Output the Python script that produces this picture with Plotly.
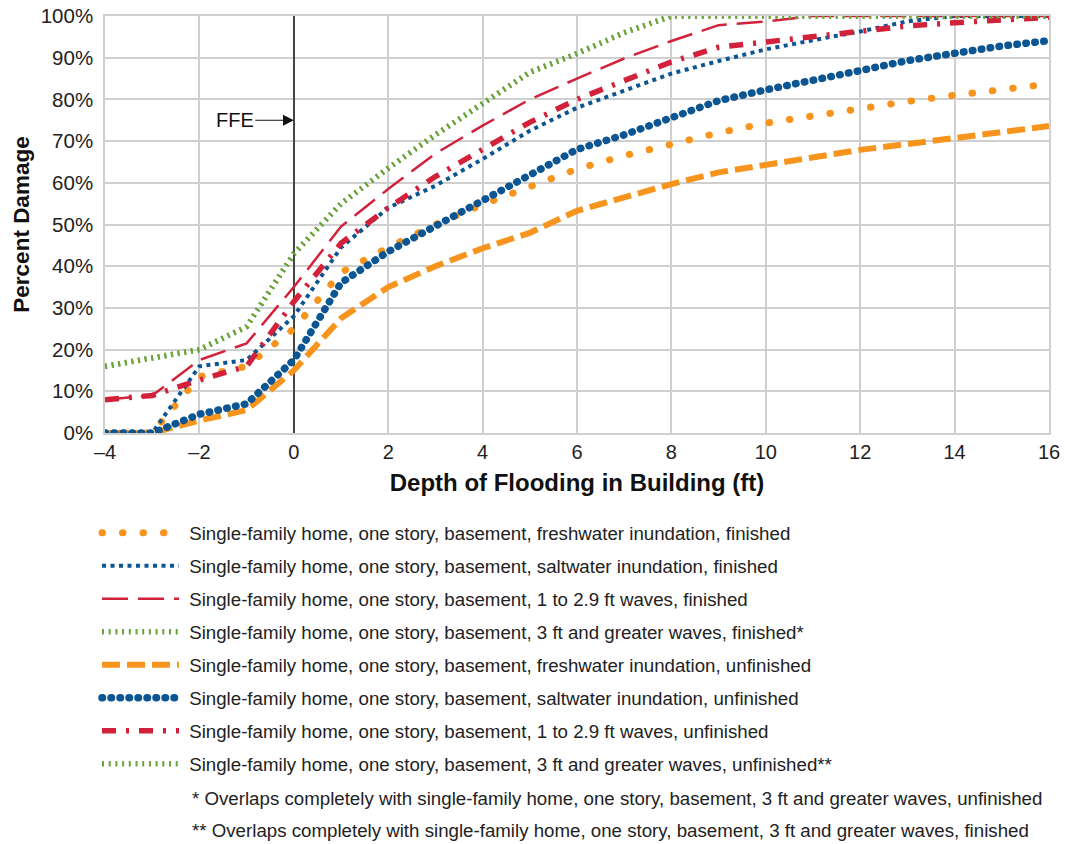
import plotly.graph_objects as go

depth_ft = [-4, -3, -2, -1, 0, 1, 2, 3, 4, 5, 6, 7, 8, 9, 10, 11, 12, 13, 14, 15, 16]

fresh_finished = [0, 0, 13.5, 16, 25, 38.5, 44.5, 50, 54.8, 59, 63.3, 66.5, 69.3, 72, 74.3, 76.1, 77.8, 79.5, 81, 82.5, 83.7]
salt_finished = [0, 0, 16, 17.5, 28, 44.5, 54, 59.3, 65.7, 72.5, 78, 82.2, 86.2, 89.2, 92, 94.2, 96.3, 98.7, 100, 100, 100]
wave1_finished = [8, 9, 17.5, 21.5, 35, 49.5, 58.5, 67, 73.7, 80, 85, 89.8, 94, 97.8, 98.7, 100, 100, 100, 100, 100, 100]
wave3_finished = [16, 18, 20, 25.5, 43, 55, 63.5, 71.5, 79, 86.5, 91, 96, 100, 100, 100, 100, 100, 100, 100, 100, 100]
fresh_unfinished = [0, 0, 3, 5.5, 15, 27.5, 35, 40, 44.3, 48, 53.3, 56.5, 59.7, 62.5, 64.3, 66, 67.9, 69.3, 70.7, 72.2, 73.6]
salt_unfinished = [0, 0, 4.5, 7, 17.5, 36, 43.5, 49.7, 56, 62, 68, 71.5, 75.7, 79.7, 82.3, 84.4, 86.9, 89.3, 91.1, 92.8, 94.1]
wave1_unfinished = [8, 9, 12.7, 16, 31.5, 45.5, 54, 61.5, 68, 74.5, 80, 84.5, 89, 92.5, 93.8, 95.3, 96.5, 97.6, 98.4, 99.2, 99.7]
wave3_unfinished = [16, 18, 20, 25.5, 43, 55, 63.5, 71.5, 79, 86.5, 91, 96, 100, 100, 100, 100, 100, 100, 100, 100, 100]

series_names = [
    "Single-family home, one story, basement, freshwater inundation, finished",
    "Single-family home, one story, basement, saltwater inundation, finished",
    "Single-family home, one story, basement, 1 to 2.9 ft waves, finished",
    "Single-family home, one story, basement, 3 ft and greater waves, finished*",
    "Single-family home, one story, basement, freshwater inundation, unfinished",
    "Single-family home, one story, basement, saltwater inundation, unfinished",
    "Single-family home, one story, basement, 1 to 2.9 ft waves, unfinished",
    "Single-family home, one story, basement, 3 ft and greater waves, unfinished**",
]
footnotes = [
    "* Overlaps completely with single-family home, one story, basement, 3 ft and greater waves, unfinished",
    "** Overlaps completely with single-family home, one story, basement, 3 ft and greater waves, finished",
]
x_tick_vals = [-4, -2, 0, 2, 4, 6, 8, 10, 12, 14, 16]
x_tick_text = ["\u20134", "\u20132", "0", "2", "4", "6", "8", "10", "12", "14", "16"]

ORANGE = "#F7941D"
BLUE = "#0B5592"
RED = "#D2213A"
GREEN = "#6BA43A"
FONT = "Liberation Sans, Arial"

series = [
    (fresh_finished, dict(color=ORANGE, width=7, dash="0.5px,20px")),
    (salt_finished, dict(color=BLUE, width=4, dash="4px,4.5px")),
    (wave1_finished, dict(color=RED, width=2.5, dash="26px,10px")),
    (wave3_finished, dict(color=GREEN, width=5.5, dash="2px,4.7px")),
    (fresh_unfinished, dict(color=ORANGE, width=6, dash="18px,7px")),
    (salt_unfinished, dict(color=BLUE, width=7.5, dash="0.5px,8.5px")),
    (wave1_unfinished, dict(color=RED, width=5.5, dash="14px,10px,3px,10px")),
    (wave3_unfinished, dict(color=GREEN, width=5.5, dash="2px,4.7px")),
]

fig = go.Figure()
for i, ((vals, line), name) in enumerate(zip(series, series_names)):
    fig.add_trace(go.Scatter(
        x=depth_ft, y=vals, mode="lines", name="\u00a0" + name, line=line,
        legendgroup="g%d" % i, hoverinfo="skip",
    ))

fig.add_annotation(
    x=0, y=75, xref="x", yref="y", text="FFE", showarrow=True,
    ax=-59, ay=0, arrowhead=2, arrowsize=1.8, arrowwidth=1.2, arrowcolor="#111",
    font=dict(family=FONT, size=20, color="#111"),
)
for k, txt in enumerate(footnotes):
    fig.add_annotation(
        x=(190 - 105) / 944, y=(433 - (798 + 33 * k)) / 417, xref="paper", yref="paper",
        xanchor="left", yanchor="middle", showarrow=False, text=txt,
        font=dict(family=FONT, size=18.7, color="#222"),
    )

fig.update_layout(
    width=1065, height=844,
    margin=dict(l=105, r=16, t=16, b=411),
    paper_bgcolor="white", plot_bgcolor="white",
    font=dict(family=FONT, color="#222"),
    showlegend=True,
    legend=dict(
        x=(97 - 105) / 944, y=(433 - 514) / 417, xanchor="left", yanchor="top",
        orientation="v", itemwidth=77, tracegroupgap=5.7,
        font=dict(size=18.7, color="#222"), bgcolor="rgba(0,0,0,0)",
    ),
    xaxis=dict(
        range=[-4, 16], tickvals=x_tick_vals, ticktext=x_tick_text, automargin=False,
        showgrid=True, gridcolor="#CFCFCF", gridwidth=1.5,
        zeroline=True, zerolinecolor="#444", zerolinewidth=1.6,
        showline=True, linecolor="#CFCFCF", linewidth=1.5, mirror=True,
        ticks="", tickfont=dict(size=20, color="#222"),
        title=dict(text="<b>Depth of Flooding in Building (ft)</b>", font=dict(size=24, color="#111"), standoff=12),
    ),
    yaxis=dict(
        range=[0, 100], dtick=10, ticksuffix="%", automargin=False,
        showgrid=True, gridcolor="#CFCFCF", gridwidth=1.5, zeroline=False,
        showline=True, linecolor="#CFCFCF", linewidth=1.5, mirror=True,
        ticks="", ticklabelstandoff=6, tickfont=dict(size=20.5, color="#222"),
        title=dict(text="<b>Percent Damage</b>", font=dict(size=22.5, color="#111"), standoff=5),
    ),
)

post = """
var gd = document.getElementById('{plot_id}');
function roundCaps(){
  var tr = gd.querySelectorAll('.scatterlayer .trace');
  var lg = gd.querySelectorAll('.legend .traces');
  [0,5].forEach(function(i){
    if (tr[i]) tr[i].querySelectorAll('path.js-line').forEach(function(p){p.style.strokeLinecap='round';});
    if (lg[i]) lg[i].querySelectorAll('path.js-line').forEach(function(p){p.style.strokeLinecap='round';});
  });
}
roundCaps();
gd.on('plotly_afterplot', roundCaps);
"""
fig.write_html("out.html", post_script=post)
